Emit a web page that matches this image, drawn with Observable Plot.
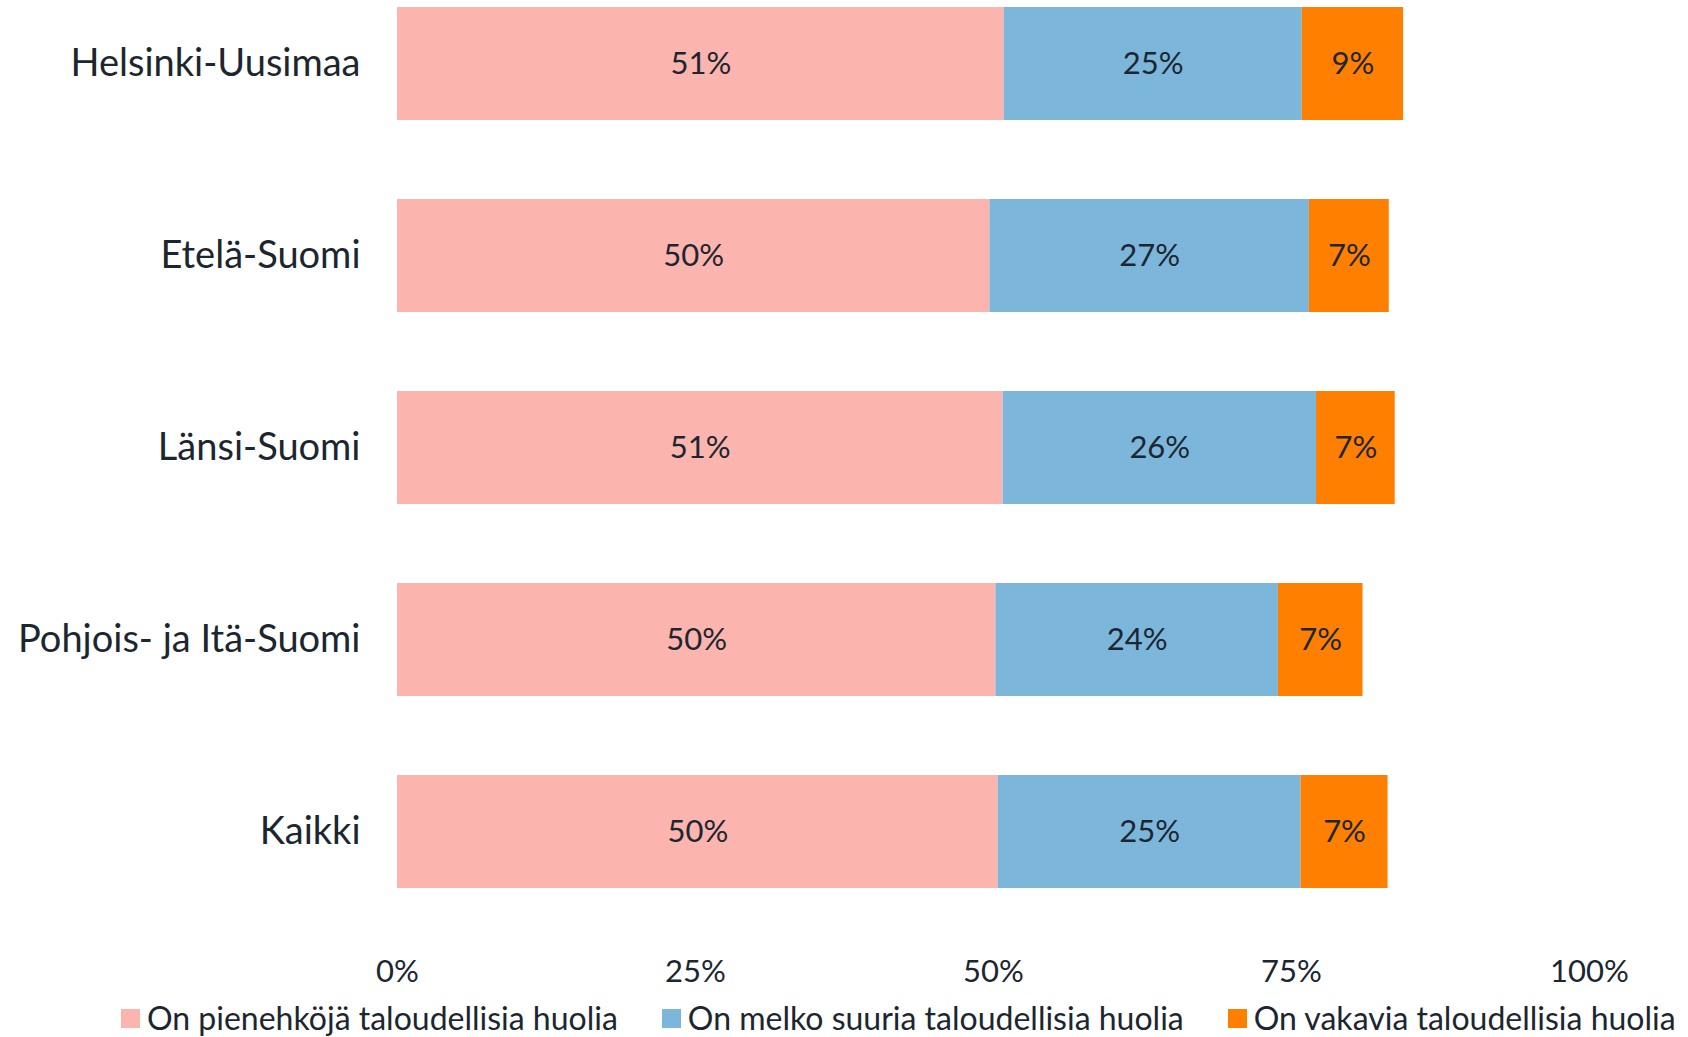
<!DOCTYPE html>
<html>
<head>
<meta charset="utf-8">
<script src="https://cdn.jsdelivr.net/npm/d3@7"></script>
<script src="https://cdn.jsdelivr.net/npm/@observablehq/plot@0.6"></script>
<style>
  html, body { margin: 0; padding: 0; background: #fff; }
  body { width: 1688px; height: 1037px; overflow: hidden; font-family: Lato, "Noto Sans", sans-serif; color: #1c2630; }
  #chart svg { display: block; }
  #legend { display: flex; align-items: center; height: 36px; line-height: 36px; margin-left: 121px; gap: 44px; font-size: 32px; white-space: nowrap; }
  #legend .item { display: flex; align-items: center; gap: 7px; }
  #legend .sw { width: 19px; height: 19px; display: inline-block; }
</style>
</head>
<body>
<div id="chart"></div>
<div id="legend"></div>
<script>
// Categories (top to bottom)
const regions = ["Helsinki-Uusimaa", "Etelä-Suomi", "Länsi-Suomi", "Pohjois- ja Itä-Suomi", "Kaikki"];
// Series names (stack order, left to right)
const seriesNames = ["On pienehköjä taloudellisia huolia", "On melko suuria taloudellisia huolia", "On vakavia taloudellisia huolia"];
const seriesColors = ["#fbb4ae", "#7cb6db", "#ff7f00"];
// Values (%) per region
const pienehkoja = [50.9, 49.7, 50.8, 50.2, 50.4];
const melkoSuuria = [25.0, 26.8, 26.3, 23.7, 25.4];
const vakavia = [8.5, 6.7, 6.6, 7.1, 7.3];
// Axis ticks
const xTicks = [0, 25, 50, 75, 100];
const xTickLabels = ["0%", "25%", "50%", "75%", "100%"];

const seriesValues = [pienehkoja, melkoSuuria, vakavia];
const data = [];
regions.forEach((r, i) => {
  seriesNames.forEach((s, j) => {
    data.push({region: r, series: s, value: seriesValues[j][i], label: Math.round(seriesValues[j][i]) + "%"});
  });
});

const chart = Plot.plot({
  width: 1688,
  height: 1000,
  marginLeft: 397,
  marginRight: 99,
  marginTop: 6,
  marginBottom: 112.3,
  style: {fontFamily: "Lato, 'Noto Sans', sans-serif", color: "#1c2630", background: "#fff"},
  x: {domain: [0, 100]},
  y: {domain: regions, paddingInner: 0.4138, paddingOuter: 0},
  color: {domain: seriesNames, range: seriesColors},
  marks: [
    Plot.barX(data, Plot.stackX({x: "value", y: "region", z: "series", fill: "series", order: seriesNames})),
    Plot.textX(data, Plot.stackX({x: "value", y: "region", z: "series", order: seriesNames, text: "label", fontSize: 31, fill: "#1c2630"})),
    Plot.axisY({tickSize: 0, tickPadding: 37, fontSize: 38, label: null}),
    Plot.axisX({ticks: xTicks, tickFormat: (d) => xTickLabels[xTicks.indexOf(d)], tickSize: 0, tickPadding: 72, fontSize: 31, label: null})
  ]
});
document.getElementById("chart").appendChild(chart);

const legend = document.getElementById("legend");
seriesNames.forEach((s, j) => {
  const item = document.createElement("div");
  item.className = "item";
  const sw = document.createElement("span");
  sw.className = "sw";
  sw.style.background = seriesColors[j];
  const t = document.createElement("span");
  t.textContent = s;
  item.appendChild(sw);
  item.appendChild(t);
  legend.appendChild(item);
});
</script>
</body>
</html>
